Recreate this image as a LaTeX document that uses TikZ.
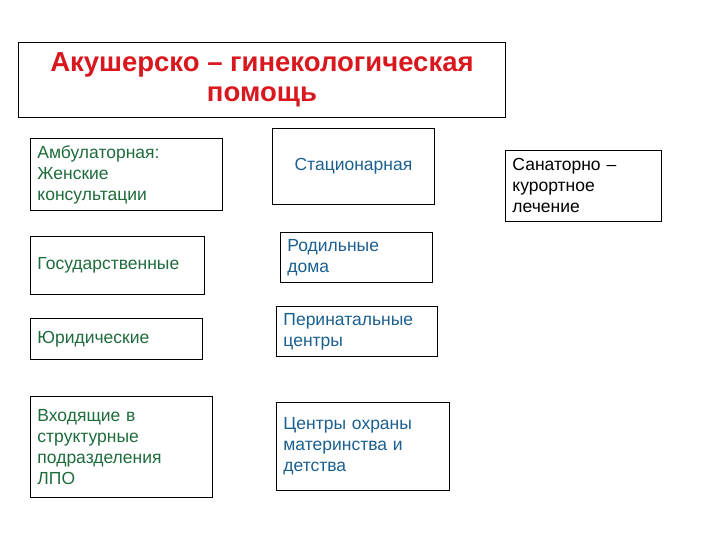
\documentclass[tikz,border=0pt]{standalone}
\usepackage{fontspec}
\setmainfont{Liberation Sans}
\definecolor{grn}{HTML}{1E6B3C}
\definecolor{blu}{HTML}{1A5F8F}
\definecolor{rd}{HTML}{D8181E}
\begin{document}
\begin{tikzpicture}[x=1pt,y=-1pt,
 bx/.style={draw=black,line width=0.9pt,rectangle,anchor=north west,inner xsep=7pt,inner ysep=1pt,align=left,font=\fontsize{17.5}{21}\selectfont},
 lc/.style={text=grn},mc/.style={text=blu},rc/.style={text=black}]
\useasboundingbox (0,0) rectangle (720,540);
\newcommand\bxat[6]{\node[bx,#6,minimum width=#3pt,minimum height=#4pt,text width=#3pt-14pt] (#1) at (#2) {#5};}
\node[draw,line width=0.9pt,anchor=north west,minimum width=487pt,minimum height=75pt,align=center,text=rd,font=\bfseries\fontsize{27.5}{30}\selectfont] (title) at (18,42) {Акушерско – гинекологическая\\помощь};
\bxat{amb}{30,138}{192}{72}{Амбулаторная:\\Женские\\консультации}{lc}
\bxat{gos}{30,236}{174}{58}{Государственные}{lc}
\bxat{yur}{30,318}{172}{41}{Юридические}{lc}
\bxat{vh}{30,396}{182}{101}{Входящие в\\структурные\\подразделения\\ЛПО}{lc}
\bxat{st}{272,128}{162}{76}{Стационарная}{mc,align=center}
\bxat{rod}{280,232}{152}{50}{Родильные\\дома}{mc}
\bxat{per}{276,306}{161}{50}{Перинатальные\\центры}{mc}
\bxat{cen}{276,402}{173}{88}{Центры охраны\\материнства и\\детства\\[6pt]}{mc}
\bxat{san}{505,150}{156}{71}{Санаторно –\\курортное\\лечение}{rc}
\end{tikzpicture}
\end{document}
